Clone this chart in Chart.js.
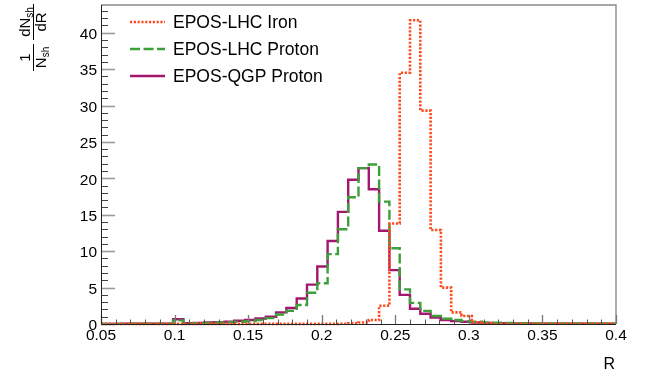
<!DOCTYPE html>
<html>
<head>
<meta charset="utf-8">
<script src="https://cdn.jsdelivr.net/npm/chart.js@4/dist/chart.umd.min.js"></script>
<style>
  html, body { margin: 0; padding: 0; background: #ffffff; }
  #wrap { width: 648px; height: 378px; position: relative; }
</style>
</head>
<body>
<div id="wrap"><canvas id="c" width="648" height="378"></canvas></div>
<script>
// Bin edges (50 bins from 0.05 to 0.40)
const binEdges = [0.050,0.057,0.064,0.071,0.078,0.085,0.092,0.099,0.106,0.113,
                  0.120,0.127,0.134,0.141,0.148,0.155,0.162,0.169,0.176,0.183,
                  0.190,0.197,0.204,0.211,0.218,0.225,0.232,0.239,0.246,0.253,
                  0.260,0.267,0.274,0.281,0.288,0.295,0.302,0.309,0.316,0.323,
                  0.330,0.337,0.344,0.351,0.358,0.365,0.372,0.379,0.386,0.393,0.400];

const seriesNames = ["EPOS-LHC Iron", "EPOS-LHC Proton", "EPOS-QGP Proton"];

const lhcIron = [0.02,0.02,0.02,0.02,0.02,0.02,0.02,0.02,0.02,0.02,
                 0.02,0.02,0.02,0.02,0.02,0.02,0.02,0.02,0.02,0.02,
                 0.02,0.02,0.02,0.03,0.1,0.2,0.55,2.5,13.8,34.5,
                 41.7,29.3,12.9,5.0,1.6,1.1,0.25,0.1,0.03,0.03,
                 0.03,0.03,0.03,0.03,0.03,0.03,0.03,0.03,0.03,0.03];

const lhcProton = [0.02,0.02,0.02,0.03,0.03,0.04,0.05,0.5,0.05,0.1,
                   0.15,0.2,0.25,0.3,0.4,0.55,0.8,1.3,1.8,2.6,
                   4.3,5.6,9.6,13.0,17.4,21.4,21.9,16.8,10.4,4.75,
                   2.9,1.8,1.1,0.73,0.55,0.4,0.3,0.22,0.18,0.15,
                   0.12,0.1,0.08,0.08,0.08,0.07,0.07,0.07,0.06,0.06];

const qgpProton = [0.02,0.02,0.03,0.03,0.04,0.05,0.05,0.65,0.1,0.15,
                   0.2,0.25,0.3,0.45,0.55,0.75,1.0,1.6,2.2,3.5,
                   5.4,7.9,11.4,15.4,19.8,21.4,18.5,12.8,7.4,4.0,
                   2.1,1.4,0.9,0.55,0.4,0.3,0.2,0.15,0.12,0.1,
                   0.08,0.06,0.05,0.05,0.05,0.05,0.05,0.05,0.05,0.05];

const xTicks = [0.05,0.1,0.15,0.2,0.25,0.3,0.35,0.4];
const yTicks = [0,5,10,15,20,25,30,35,40];
const xTitle = "R";

function histPoints(vals) {
  const pts = vals.map((v, i) => ({ x: binEdges[i], y: v }));
  pts.push({ x: binEdges[binEdges.length - 1], y: vals[vals.length - 1] });
  return pts;
}

const FONT = "'Liberation Sans', Arial, Helvetica, sans-serif";

const colIron = '#ff4a1c';
const colLHC = '#3d9f3a';
const colQGP = '#a3176f';

const frameTicks = {
  id: 'frameTicks',
  afterDatasetsDraw(chart) {
    const ctx = chart.ctx, a = chart.chartArea;
    const xs = chart.scales.x, ys = chart.scales.y;
    ctx.save();
    ctx.strokeStyle = '#8a8a8a'; ctx.lineWidth = 1.4;
    ctx.beginPath();
    ctx.moveTo(a.left, a.top); ctx.lineTo(a.right, a.top); ctx.lineTo(a.right, a.bottom);
    ctx.stroke();
    for (let v = 0; v <= 43; v += 1) {
      const p = Math.round(ys.getPixelForValue(v)) + 0.5;
      const major = yTicks.includes(v);
      ctx.strokeStyle = major ? '#9a9a9a' : '#444';
      ctx.lineWidth = major ? 1.6 : 1;
      ctx.beginPath(); ctx.moveTo(a.left, p); ctx.lineTo(a.left + (major ? 14 : 7), p); ctx.stroke();
    }
    for (let i = 0; i <= 35; i++) {
      const v = 0.05 + i * 0.01;
      const p = Math.round(xs.getPixelForValue(v)) + 0.5;
      const major = (i % 5 === 0);
      ctx.strokeStyle = major ? '#777' : '#555';
      ctx.lineWidth = major ? 1.3 : 1;
      ctx.beginPath(); ctx.moveTo(p, a.bottom); ctx.lineTo(p, a.bottom - (major ? 9 : 4.5)); ctx.stroke();
    }
    ctx.strokeStyle = '#222'; ctx.lineWidth = 1;
    ctx.beginPath();
    ctx.moveTo(a.left + 0.5, a.top); ctx.lineTo(a.left + 0.5, a.bottom + 0.5); ctx.lineTo(a.right, a.bottom + 0.5);
    ctx.stroke();
    ctx.restore();
  },
  afterDraw(chart) {
    const ctx = chart.ctx, a = chart.chartArea;
    ctx.save();
    ctx.fillStyle = '#000';
    ctx.font = '16px ' + FONT;
    ctx.textAlign = 'right'; ctx.textBaseline = 'alphabetic';
    ctx.fillText(xTitle, a.right - 1, 369);

    // y title: (1/N_sh) (dN_sh/dR), rotated
    ctx.translate(33, 71);
    ctx.rotate(-Math.PI / 2);
    ctx.strokeStyle = '#000'; ctx.lineWidth = 1;
    const big = '15px ' + FONT, small = '10px ' + FONT;
    function frac(u0, u1, numParts, denParts) {
      ctx.beginPath(); ctx.moveTo(u0, 0.5); ctx.lineTo(u1, 0.5); ctx.stroke();
      const c = (u0 + u1) / 2;
      function drawParts(parts, base) {
        let w = 0;
        parts.forEach(p => { ctx.font = p.sub ? small : big; w += ctx.measureText(p.t).width; });
        let u = c - w / 2;
        ctx.textAlign = 'left';
        parts.forEach(p => {
          ctx.font = p.sub ? small : big;
          ctx.fillText(p.t, u, base + (p.sub ? 3 : 0));
          u += ctx.measureText(p.t).width;
        });
      }
      drawParts(numParts, -3);
      drawParts(denParts, 13);
    }
    frac(0, 27, [{t: '1'}], [{t: 'N'}, {t: 'sh', sub: true}]);
    frac(31, 67, [{t: 'dN'}, {t: 'sh', sub: true}], [{t: 'dR'}]);
    ctx.restore();

    // legend
    ctx.save();
    const rows = [22, 49, 76];
    chart.data.datasets.forEach((ds, i) => {
      const y = rows[i];
      ctx.strokeStyle = ds.borderColor; ctx.lineWidth = ds.borderWidth;
      ctx.setLineDash(ds.borderDash || []);
      ctx.beginPath(); ctx.moveTo(130, y); ctx.lineTo(165, y); ctx.stroke();
      ctx.setLineDash([]);
      ctx.fillStyle = '#000';
      ctx.font = '17.5px ' + FONT;
      ctx.textAlign = 'left'; ctx.textBaseline = 'middle';
      ctx.fillText(ds.label, 173, y + 1.5);
    });
    ctx.restore();
  }
};

new Chart(document.getElementById('c'), {
  type: 'line',
  data: {
    datasets: [
      { label: seriesNames[0], data: histPoints(lhcIron), borderColor: colIron, borderWidth: 2.6,
        borderDash: [2.2, 1.6], stepped: true, pointRadius: 0, fill: false, order: 0, clip: {left: 0, right: 0, top: 0, bottom: 3}, borderCapStyle: 'butt' },
      { label: seriesNames[1], data: histPoints(lhcProton), borderColor: colLHC, borderWidth: 2.4,
        borderDash: [10, 3.5], stepped: true, pointRadius: 0, fill: false, order: 1, clip: {left: 0, right: 0, top: 0, bottom: 3} },
      { label: seriesNames[2], data: histPoints(qgpProton), borderColor: colQGP, borderWidth: 2.4,
        stepped: true, pointRadius: 0, fill: false, order: 2, clip: {left: 0, right: 0, top: 0, bottom: 3} }
    ]
  },
  options: {
    responsive: false,
    animation: false,
    events: [],
    layout: { padding: { top: 5, right: 32, left: 0, bottom: 0 } },
    plugins: { legend: { display: false }, tooltip: { enabled: false } },
    scales: {
      x: {
        type: 'linear', min: 0.05, max: 0.4,
        afterFit(s) { s.height = 54; s.paddingLeft = 0; s.paddingRight = 0; s.paddingTop = 0; s.paddingBottom = 0; },
        grid: { display: false, drawTicks: false, tickLength: 0 },
        border: { display: false },
        afterBuildTicks(s) { s.ticks = xTicks.map(v => ({ value: v })); },
        ticks: {
          padding: 2, color: '#000', font: { family: FONT, size: 15.5 },
          maxRotation: 0, autoSkip: false,
          callback: (v) => String(parseFloat(Number(v).toFixed(3)))
        }
      },
      y: {
        type: 'linear', min: 0, max: 43.8,
        afterFit(s) { s.width = 101; s.paddingTop = 0; s.paddingBottom = 0; s.paddingLeft = 0; s.paddingRight = 0; },
        grid: { display: false, drawTicks: false, tickLength: 0 },
        border: { display: false },
        afterBuildTicks(s) { s.ticks = yTicks.map(v => ({ value: v })); },
        ticks: {
          padding: 4, color: '#000', font: { family: FONT, size: 15.5 }, labelOffset: 2,
          callback: (v) => String(v)
        }
      }
    }
  },
  plugins: [frameTicks]
});
</script>
</body>
</html>
